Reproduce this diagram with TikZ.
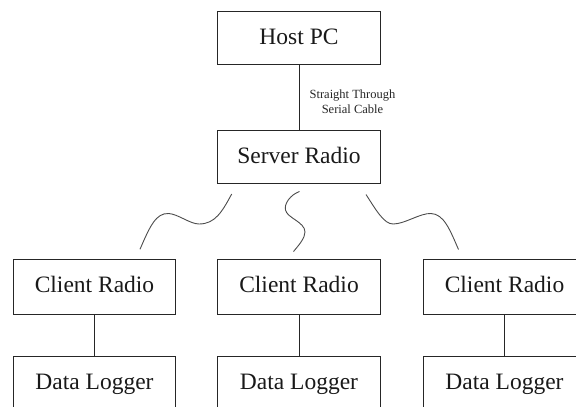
\documentclass[tikz,border=0pt]{standalone}
\usepackage{fontspec}
\setmainfont{Liberation Serif}
\tikzset{
  x=1pt,y=-1pt,
  box/.style={draw=black!85,line width=1pt,minimum width=162.5pt,minimum height=53pt,inner sep=0pt,outer sep=0pt,text height=15pt,text depth=3pt,font=\fontsize{23.5}{28}\selectfont,text=black!90},
  lowbox/.style={box,minimum height=55pt},
  wire/.style={draw=black!85,line width=1pt},
  wave/.style={draw=black!70,line width=0.9pt},
  smalltext/.style={font=\fontsize{12.5}{15}\selectfont,align=center,inner sep=0pt,text=black!85}
}
\begin{document}
\begin{tikzpicture}
\useasboundingbox (0,0) rectangle (576,407);
\clip (0,0) rectangle (576,407);
\node[box] (host) at (299,38) {Host PC};
\node[box] (server) at (299,157) {Server Radio};
\node[lowbox] (c1) at (94.5,286.5) {Client Radio};
\node[lowbox] (c2) at (299,286.5) {Client Radio};
\node[lowbox] (c3) at (504.5,286.5) {Client Radio};
\node[lowbox] (d1) at (94.5,383.5) {Data Logger};
\node[lowbox] (d2) at (299,383.5) {Data Logger};
\node[lowbox] (d3) at (504.5,383.5) {Data Logger};
\draw[wire] (host) -- (server);
\draw[wire] (c1) -- (d1);
\draw[wire] (c2) -- (d2);
\draw[wire] (c3) -- (d3);
\node[smalltext] (cable) at (352.5,101.5) {Straight Through\\Serial Cable};
\coordinate (w1a) at (231.7,194);
\coordinate (w1b) at (140,249.3);
\coordinate (w2a) at (299.5,191.5);
\coordinate (w2b) at (293.5,251.5);
\coordinate (w3a) at (366,194.5);
\coordinate (w3b) at (458.5,249.5);
\draw[wave] (w1b) .. controls (150,226) and (156,213) .. (168.5,213.5)
  .. controls (178,214) and (190,224) .. (199,224)
  .. controls (215,224) and (222,212) .. (w1a);
\draw[wave] (w2a) .. controls (290,195) and (284,204) .. (285.5,210)
  .. controls (287,218) and (305,222) .. (305,232)
  .. controls (305,238) and (299,245) .. (w2b);
\draw[wave] (w3a) .. controls (376,210) and (384,224) .. (393,224)
  .. controls (405,224) and (420,213) .. (431,213.5)
  .. controls (444,214) and (450,230) .. (w3b);
\end{tikzpicture}
\end{document}
